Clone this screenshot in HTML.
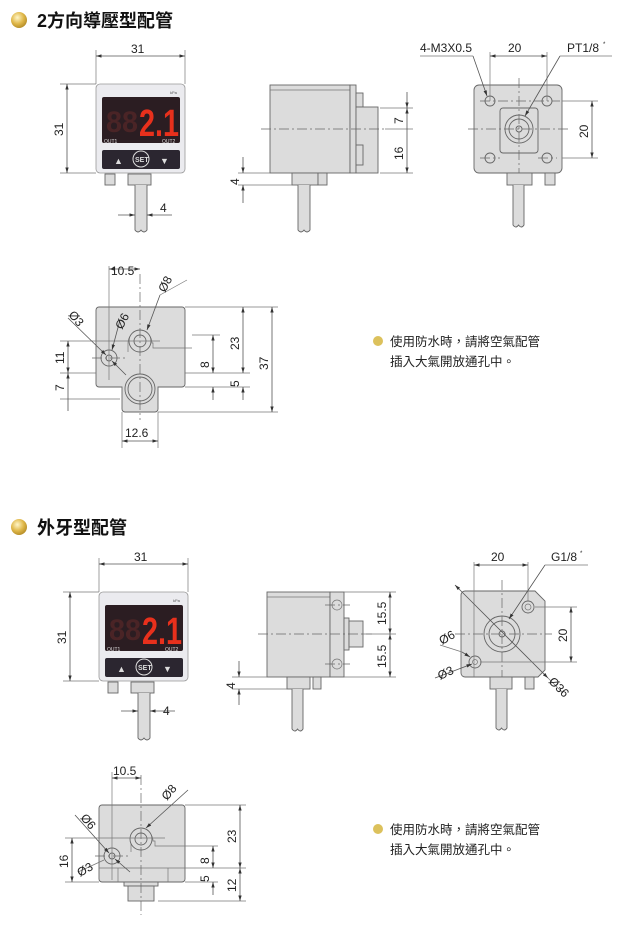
<!DOCTYPE html>
<html><head><meta charset="utf-8"><style>
html,body{margin:0;padding:0;background:#fff;}
svg{display:block;}
text{font-family:"Liberation Sans","Noto Sans CJK TC",sans-serif;fill:#222;}
.d{stroke:#555;stroke-width:0.8;fill:none;}
.c{stroke:#666;stroke-width:0.7;fill:none;stroke-dasharray:10 3 2 3;}
.b{fill:#dcdcdc;stroke:#666;stroke-width:0.9;}
.l{stroke:#777;stroke-width:0.7;fill:none;}
.t{font-size:12px;}
</style></head><body>
<svg width="620" height="927" viewBox="0 0 620 927" xmlns="http://www.w3.org/2000/svg">
<defs>
<radialGradient id="g" cx="40%" cy="35%" r="65%"><stop offset="0" stop-color="#fff6c8"/><stop offset="0.6" stop-color="#e0b84a"/><stop offset="1" stop-color="#b8902a"/></radialGradient>
<marker id="a" viewBox="0 0 10 10" refX="10" refY="5" markerWidth="7" markerHeight="7" orient="auto-start-reverse"><path d="M0,2 L10,5 L0,8 z" fill="#333"/></marker>
<g id="front">
<rect x="96" y="84" width="89" height="89" rx="4" fill="#ebebef" stroke="#999" stroke-width="0.8"/>
<rect x="102" y="97" width="78" height="46" rx="2" fill="#2b1d22"/>
<text x="106" y="132" textLength="32" lengthAdjust="spacingAndGlyphs" style="font-size:30px;fill:#4a2426;font-weight:bold">88</text>
<text x="139" y="136" textLength="40" lengthAdjust="spacingAndGlyphs" style="font-size:38px;fill:#e8301c;font-weight:bold">2.1</text>
<text x="104" y="143" style="font-size:5px;fill:#ddd">OUT1</text>
<text x="162" y="143" style="font-size:5px;fill:#ddd">OUT2</text>
<text x="170" y="94" style="font-size:4px;fill:#555">kPa</text>
<rect x="102" y="150" width="78" height="19" rx="2" fill="#2b2630"/>
<text x="114" y="164" style="font-size:9px;fill:#ddd">▲</text>
<circle cx="141" cy="159" r="8" fill="#2b2630" stroke="#ddd" stroke-width="1"/>
<text x="135" y="162" style="font-size:7px;fill:#ddd;font-weight:bold">SET</text>
<text x="160" y="164" style="font-size:9px;fill:#ddd">▼</text>
<rect x="105" y="174" width="10" height="11" class="b"/>
<rect x="128" y="174" width="23" height="11" class="b"/>
<path d="M135,185 V230 q3,4 6,0 q3,4 6,0 V185" class="b"/>
</g>
</defs>

<circle cx="19" cy="20" r="8" fill="url(#g)"/>
<text x="37" y="27" style="font-size:18px;font-weight:bold;fill:#111">2方向導壓型配管</text>

<use href="#front"/>
<line x1="96" y1="50" x2="96" y2="84" class="l"/><line x1="185" y1="50" x2="185" y2="84" class="l"/>
<line x1="96" y1="56" x2="185" y2="56" class="d" marker-start="url(#a)" marker-end="url(#a)"/>
<text x="131" y="53" class="t">31</text>
<line x1="60" y1="84" x2="96" y2="84" class="l"/><line x1="60" y1="173" x2="96" y2="173" class="l"/>
<line x1="67" y1="84" x2="67" y2="173" class="d" marker-start="url(#a)" marker-end="url(#a)"/>
<text x="0" y="0" class="t" transform="translate(63,136) rotate(-90)">31</text>
<line x1="118" y1="215" x2="135" y2="215" class="d" marker-end="url(#a)"/><line x1="147" y1="215" x2="172" y2="215" class="d" marker-start="url(#a)"/>
<text x="160" y="212" class="t">4</text>

<rect x="270" y="85" width="80" height="88" class="b"/>
<line x1="270" y1="90" x2="350" y2="90" class="l"/>
<rect x="350" y="85" width="6" height="88" class="b"/>
<rect x="356" y="93" width="7" height="14" class="b"/>
<rect x="356" y="107" width="22" height="66" class="b"/>
<rect x="356" y="145" width="7" height="20" class="b"/>
<line x1="261" y1="129" x2="385" y2="129" class="c"/>
<rect x="292" y="173" width="26" height="12" class="b"/><rect x="318" y="173" width="9" height="12" class="b"/>
<path d="M298,185 V230 q3,4 6,0 q3,4 6,0 V185" class="b"/>
<line x1="380" y1="108" x2="413" y2="108" class="l"/><line x1="385" y1="129" x2="413" y2="129" class="l"/><line x1="380" y1="173" x2="413" y2="173" class="l"/>
<line x1="407" y1="92" x2="407" y2="108" class="d" marker-end="url(#a)"/>
<line x1="407" y1="108" x2="407" y2="173" class="d" marker-start="url(#a)" marker-end="url(#a)"/>
<text class="t" transform="translate(403,124) rotate(-90)">7</text>
<text class="t" transform="translate(403,160) rotate(-90)">16</text>
<line x1="238" y1="173" x2="270" y2="173" class="l"/><line x1="238" y1="185" x2="292" y2="185" class="l"/>
<line x1="243" y1="157" x2="243" y2="173" class="d" marker-end="url(#a)"/><line x1="243" y1="203" x2="243" y2="185" class="d" marker-end="url(#a)"/>
<text class="t" transform="translate(239,185) rotate(-90)">4</text>

<rect x="474" y="85" width="88" height="88" rx="5" class="b"/>
<rect x="500" y="108" width="38" height="45" rx="3" class="b"/>
<circle cx="519" cy="129" r="14" class="b"/><circle cx="519" cy="129" r="10" class="b"/><circle cx="519" cy="129" r="3" class="b"/>
<circle cx="490" cy="101" r="5" class="b"/><circle cx="547" cy="101" r="5" class="b"/><circle cx="490" cy="158" r="5" class="b"/><circle cx="547" cy="158" r="5" class="b"/>
<line x1="468" y1="129" x2="570" y2="129" class="c"/><line x1="519" y1="78" x2="519" y2="180" class="c"/>
<line x1="480" y1="101" x2="560" y2="101" class="c"/><line x1="480" y1="158" x2="500" y2="158" class="c"/><line x1="538" y1="158" x2="557" y2="158" class="c"/>
<rect x="507" y="173" width="25" height="12" class="b"/><rect x="545" y="173" width="10" height="12" class="b"/>
<path d="M513,185 V225 q3,4 5.5,0 q3,4 5.5,0 V185" class="b"/>
<line x1="490" y1="52" x2="490" y2="101" class="l"/><line x1="547" y1="52" x2="547" y2="101" class="l"/>
<line x1="490" y1="56" x2="547" y2="56" class="d" marker-start="url(#a)" marker-end="url(#a)"/>
<text x="508" y="52" class="t">20</text>
<text x="420" y="52" class="t">4-M3X0.5</text>
<line x1="420" y1="56" x2="473" y2="56" class="l"/><line x1="473" y1="56" x2="487" y2="96" class="d" marker-end="url(#a)"/>
<text x="567" y="52" class="t">PT1/8</text><text x="603" y="46" style="font-size:6px">*</text>
<line x1="560" y1="56" x2="612" y2="56" class="l"/><line x1="560" y1="56" x2="525" y2="116" class="d" marker-end="url(#a)"/>
<line x1="562" y1="101" x2="598" y2="101" class="l"/><line x1="562" y1="158" x2="598" y2="158" class="l"/>
<line x1="592" y1="101" x2="592" y2="158" class="d" marker-start="url(#a)" marker-end="url(#a)"/>
<text class="t" transform="translate(588,138) rotate(-90)">20</text>

<path d="M99,307 H182 a3,3 0 0 1 3,3 V384 a3,3 0 0 1 -3,3 H158 V409 a3,3 0 0 1 -3,3 H125 a3,3 0 0 1 -3,-3 V387 H99 a3,3 0 0 1 -3,-3 V310 a3,3 0 0 1 3,-3 z" class="b"/>
<path d="M128,352 V343 a12,12 0 0 1 24,0 H153 V348 H192" class="l"/>
<circle cx="140" cy="341" r="11" class="b"/><circle cx="140" cy="341" r="6" class="b"/>
<circle cx="140" cy="389" r="15" class="b"/><circle cx="140" cy="389" r="12" class="b"/>
<circle cx="109" cy="358" r="8" class="b"/><circle cx="109" cy="358" r="3" class="b"/>
<line x1="140" y1="274" x2="140" y2="420" class="c"/><line x1="109" y1="266" x2="109" y2="380" class="l"/>
<line x1="60" y1="341" x2="160" y2="341" class="l"/><line x1="92" y1="358" x2="125" y2="358" class="c"/>
<line x1="60" y1="373" x2="96" y2="373" class="l"/><line x1="60" y1="399" x2="120" y2="399" class="l"/>
<line x1="109" y1="269" x2="140" y2="269" class="d" marker-start="url(#a)" marker-end="url(#a)"/>
<text x="111" y="275" class="t">10.5</text>
<line x1="68" y1="341" x2="68" y2="373" class="d" marker-start="url(#a)" marker-end="url(#a)"/>
<line x1="68" y1="373" x2="68" y2="411" class="d" marker-start="url(#a)"/>
<text class="t" transform="translate(64,364) rotate(-90)">11</text>
<text class="t" transform="translate(64,391) rotate(-90)">7</text>
<line x1="160" y1="295" x2="147" y2="330" class="d" marker-end="url(#a)"/><line x1="187" y1="280" x2="160" y2="295" class="l"/>
<text class="t" transform="translate(165,293) rotate(-62)">Ø8</text>
<line x1="120" y1="320" x2="112" y2="350" class="d" marker-end="url(#a)"/>
<text class="t" transform="translate(122,330) rotate(-62)">Ø6</text>
<line x1="68" y1="318" x2="106" y2="355" class="d" marker-end="url(#a)"/><line x1="126" y1="375" x2="112" y2="361" class="d" marker-end="url(#a)"/>
<text class="t" transform="translate(68,315) rotate(50)">Ø3</text>
<line x1="185" y1="307" x2="278" y2="307" class="l"/><line x1="192" y1="335" x2="220" y2="335" class="l"/>
<line x1="185" y1="373" x2="250" y2="373" class="l"/><line x1="185" y1="387" x2="250" y2="387" class="l"/><line x1="158" y1="412" x2="278" y2="412" class="l"/>
<line x1="213" y1="335" x2="213" y2="373" class="d" marker-start="url(#a)" marker-end="url(#a)"/>
<line x1="213" y1="387" x2="213" y2="400" class="d" marker-start="url(#a)"/>
<text class="t" transform="translate(209,368) rotate(-90)">8</text>
<line x1="243" y1="307" x2="243" y2="373" class="d" marker-start="url(#a)" marker-end="url(#a)"/>
<line x1="243" y1="387" x2="243" y2="400" class="d" marker-start="url(#a)"/>
<text class="t" transform="translate(239,350) rotate(-90)">23</text>
<text class="t" transform="translate(239,387) rotate(-90)">5</text>
<line x1="272" y1="307" x2="272" y2="412" class="d" marker-start="url(#a)" marker-end="url(#a)"/>
<text class="t" transform="translate(268,370) rotate(-90)">37</text>
<line x1="122" y1="412" x2="122" y2="448" class="l"/><line x1="158" y1="412" x2="158" y2="448" class="l"/>
<line x1="122" y1="441" x2="158" y2="441" class="d" marker-start="url(#a)" marker-end="url(#a)"/>
<text x="125" y="437" class="t">12.6</text>

<circle cx="378" cy="341" r="5" fill="#dcc15c"/>
<text x="390" y="346" style="font-size:12.5px">使用防水時，請將空氣配管</text>
<text x="390" y="366" style="font-size:12.5px">插入大氣開放通孔中。</text>

<circle cx="19" cy="527" r="8" fill="url(#g)"/>
<text x="37" y="534" style="font-size:18px;font-weight:bold;fill:#111">外牙型配管</text>

<use href="#front" transform="translate(3,508)"/>
<line x1="99" y1="558" x2="99" y2="592" class="l"/><line x1="188" y1="558" x2="188" y2="592" class="l"/>
<line x1="99" y1="564" x2="188" y2="564" class="d" marker-start="url(#a)" marker-end="url(#a)"/>
<text x="134" y="561" class="t">31</text>
<line x1="63" y1="592" x2="99" y2="592" class="l"/><line x1="63" y1="681" x2="99" y2="681" class="l"/>
<line x1="70" y1="592" x2="70" y2="681" class="d" marker-start="url(#a)" marker-end="url(#a)"/>
<text class="t" transform="translate(66,644) rotate(-90)">31</text>
<line x1="121" y1="711" x2="138" y2="711" class="d" marker-end="url(#a)"/><line x1="150" y1="711" x2="175" y2="711" class="d" marker-start="url(#a)"/>
<text x="163" y="715" class="t">4</text>

<rect x="267" y="592" width="63" height="85" class="b"/>
<line x1="267" y1="597" x2="330" y2="597" class="l"/>
<rect x="330" y="592" width="14" height="85" class="b"/>
<circle cx="337" cy="605" r="5" class="l"/><circle cx="337" cy="664" r="5" class="l"/>
<rect x="344" y="618" width="5" height="32" class="b"/><rect x="349" y="621" width="14" height="26" class="b"/>
<line x1="258" y1="634" x2="372" y2="634" class="c"/>
<line x1="325" y1="605" x2="350" y2="605" class="c"/><line x1="325" y1="664" x2="350" y2="664" class="c"/>
<rect x="287" y="677" width="23" height="12" class="b"/><rect x="313" y="677" width="8" height="12" class="b"/>
<path d="M292,689 V729 q3,4 5.5,0 q3,4 5.5,0 V689" class="b"/>
<line x1="344" y1="592" x2="396" y2="592" class="l"/><line x1="363" y1="634" x2="396" y2="634" class="l"/><line x1="344" y1="677" x2="396" y2="677" class="l"/>
<line x1="390" y1="592" x2="390" y2="634" class="d" marker-start="url(#a)" marker-end="url(#a)"/>
<line x1="390" y1="634" x2="390" y2="677" class="d" marker-start="url(#a)" marker-end="url(#a)"/>
<text class="t" transform="translate(386,625) rotate(-90)">15.5</text>
<text class="t" transform="translate(386,668) rotate(-90)">15.5</text>
<line x1="232" y1="677" x2="267" y2="677" class="l"/><line x1="232" y1="689" x2="287" y2="689" class="l"/>
<line x1="239" y1="661" x2="239" y2="677" class="d" marker-end="url(#a)"/><line x1="239" y1="705" x2="239" y2="689" class="d" marker-end="url(#a)"/>
<text class="t" transform="translate(235,689) rotate(-90)">4</text>

<path d="M465,591 H535 L545,601 V670 L538,677 H465 a4,4 0 0 1 -4,-4 V595 a4,4 0 0 1 4,-4 z" class="b"/>
<circle cx="502" cy="634" r="18" class="b"/><circle cx="502" cy="634" r="13" class="b"/><circle cx="502" cy="634" r="3" class="b"/>
<circle cx="528" cy="607" r="6" class="b"/><circle cx="528" cy="607" r="3" class="l"/>
<circle cx="475" cy="662" r="6" class="b"/><circle cx="475" cy="662" r="2.5" class="l"/>
<line x1="455" y1="634" x2="552" y2="634" class="c"/><line x1="502" y1="580" x2="502" y2="690" class="c"/>
<line x1="474" y1="562" x2="474" y2="677" class="l"/><line x1="528" y1="562" x2="528" y2="601" class="l"/>
<rect x="490" y="677" width="22" height="12" class="b"/><rect x="525" y="677" width="9" height="12" class="b"/>
<path d="M496,689 V728 q3,4 5.5,0 q3,4 5.5,0 V689" class="b"/>
<line x1="474" y1="565" x2="528" y2="565" class="d" marker-start="url(#a)" marker-end="url(#a)"/>
<text x="491" y="561" class="t">20</text>
<text x="551" y="561" class="t">G1/8</text><text x="580" y="555" style="font-size:6px">*</text>
<line x1="545" y1="565" x2="588" y2="565" class="l"/><line x1="545" y1="565" x2="509" y2="619" class="d" marker-end="url(#a)"/>
<line x1="455" y1="585" x2="548" y2="678" class="d" marker-start="url(#a)" marker-end="url(#a)"/>
<line x1="548" y1="678" x2="563" y2="693" class="l"/>
<text class="t" transform="translate(548,682) rotate(45)">Ø36</text>
<line x1="440" y1="645" x2="462" y2="652" class="l"/><line x1="462" y1="652" x2="470" y2="657" class="d" marker-end="url(#a)"/>
<text class="t" transform="translate(442,645) rotate(-30)">Ø6</text>
<line x1="435" y1="678" x2="472" y2="664" class="d" marker-end="url(#a)"/>
<text class="t" transform="translate(440,680) rotate(-25)">Ø3</text>
<line x1="535" y1="607" x2="577" y2="607" class="l"/><line x1="480" y1="662" x2="577" y2="662" class="l"/>
<line x1="571" y1="607" x2="571" y2="662" class="d" marker-start="url(#a)" marker-end="url(#a)"/>
<text class="t" transform="translate(567,642) rotate(-90)">20</text>

<rect x="99" y="805" width="86" height="77" rx="3" class="b"/>
<line x1="99" y1="868" x2="185" y2="868" class="l"/><line x1="118" y1="868" x2="118" y2="882" class="l"/><line x1="168" y1="868" x2="168" y2="882" class="l"/>
<path d="M131,852 V841 a11,11 0 0 1 22,0 H155 V846 H185" class="l"/>
<circle cx="141" cy="839" r="11" class="b"/><circle cx="141" cy="839" r="6" class="b"/>
<circle cx="112" cy="856" r="8" class="b"/><circle cx="112" cy="856" r="3" class="b"/>
<rect x="124" y="882" width="34" height="4" class="b"/><rect x="128" y="886" width="26" height="15" class="b"/>
<line x1="141" y1="775" x2="141" y2="915" class="c"/><line x1="112" y1="772" x2="112" y2="880" class="l"/>
<line x1="65" y1="838" x2="165" y2="838" class="l"/><line x1="65" y1="882" x2="99" y2="882" class="l"/>
<line x1="95" y1="856" x2="130" y2="856" class="c"/>
<line x1="112" y1="778" x2="141" y2="778" class="d" marker-start="url(#a)" marker-end="url(#a)"/>
<text x="113" y="775" class="t">10.5</text>
<line x1="72" y1="838" x2="72" y2="882" class="d" marker-start="url(#a)" marker-end="url(#a)"/>
<text class="t" transform="translate(68,868) rotate(-90)">16</text>
<line x1="188" y1="790" x2="146" y2="828" class="d" marker-end="url(#a)"/>
<text class="t" transform="translate(167,801) rotate(-50)">Ø8</text>
<line x1="75" y1="815" x2="109" y2="853" class="d" marker-end="url(#a)"/>
<text class="t" transform="translate(80,818) rotate(50)">Ø6</text>
<line x1="130" y1="872" x2="115" y2="859" class="d" marker-end="url(#a)"/><line x1="78" y1="872" x2="104" y2="860" class="l"/>
<text class="t" transform="translate(80,877) rotate(-30)">Ø3</text>
<line x1="185" y1="805" x2="246" y2="805" class="l"/><line x1="185" y1="846" x2="218" y2="846" class="l"/>
<line x1="185" y1="868" x2="246" y2="868" class="l"/><line x1="185" y1="882" x2="218" y2="882" class="l"/><line x1="158" y1="901" x2="246" y2="901" class="l"/>
<line x1="213" y1="846" x2="213" y2="868" class="d" marker-start="url(#a)" marker-end="url(#a)"/>
<line x1="213" y1="882" x2="213" y2="895" class="d" marker-start="url(#a)"/>
<text class="t" transform="translate(209,864) rotate(-90)">8</text>
<text class="t" transform="translate(209,882) rotate(-90)">5</text>
<line x1="240" y1="805" x2="240" y2="868" class="d" marker-start="url(#a)" marker-end="url(#a)"/>
<line x1="240" y1="868" x2="240" y2="901" class="d" marker-start="url(#a)" marker-end="url(#a)"/>
<text class="t" transform="translate(236,843) rotate(-90)">23</text>
<text class="t" transform="translate(236,892) rotate(-90)">12</text>

<circle cx="378" cy="829" r="5" fill="#dcc15c"/>
<text x="390" y="834" style="font-size:12.5px">使用防水時，請將空氣配管</text>
<text x="390" y="854" style="font-size:12.5px">插入大氣開放通孔中。</text>
</svg>
</body></html>
